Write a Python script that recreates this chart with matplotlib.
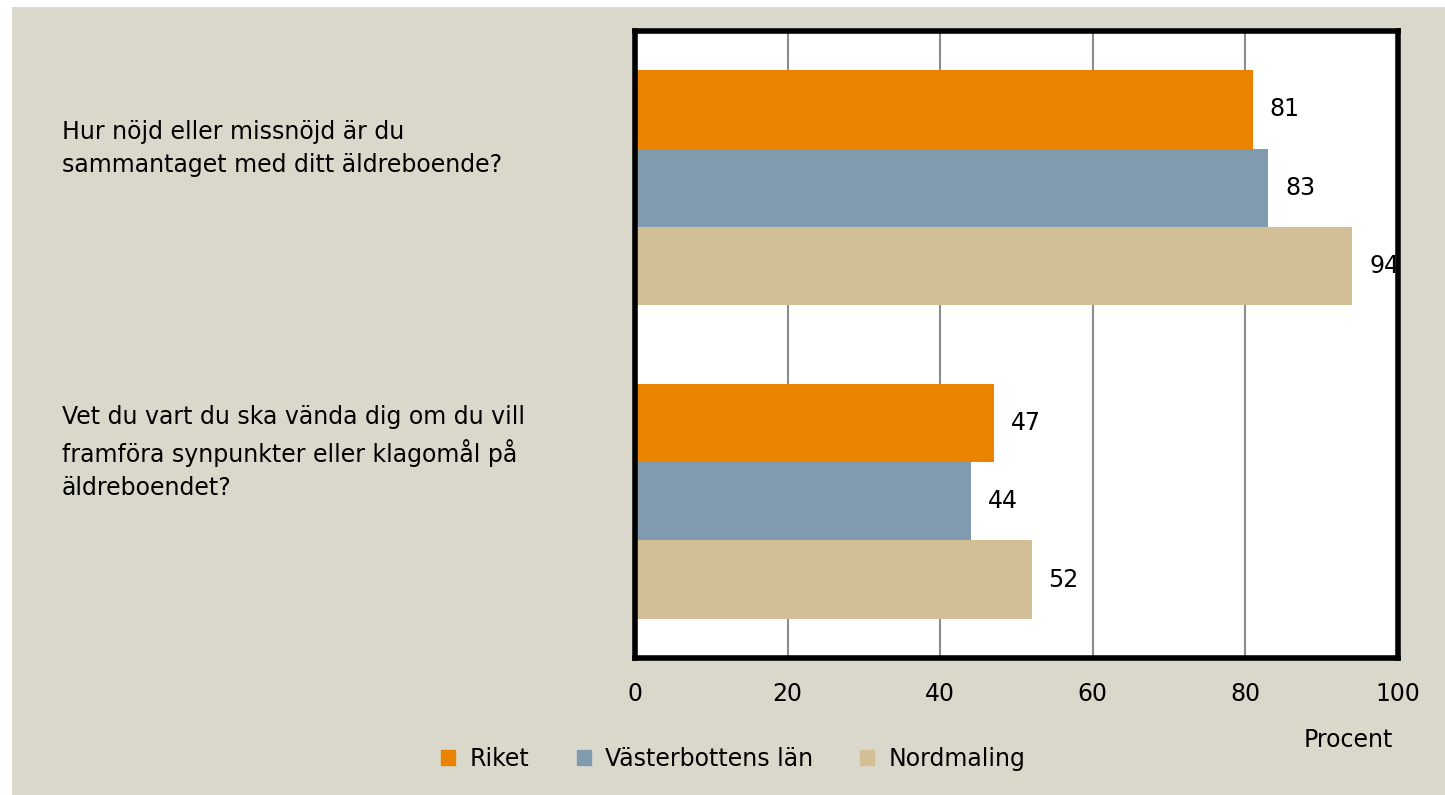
import matplotlib.pyplot as plt
import matplotlib.patches as mpatches
import numpy as np

questions = [
    "Hur nöjd eller missnöjd är du\nsammantaget med ditt äldreboende?",
    "Vet du vart du ska vända dig om du vill\nframföra synpunkter eller klagomål på\näldreboendet?",
]
series_names = ["Riket", "Västerbottens län", "Nordmaling"]
riket = [81, 47]
vasterbotten = [83, 44]
nordmaling = [94, 52]
xticks = [0, 20, 40, 60, 80, 100]

colors = ["#E98300", "#7F9BAD", "#D3BF96"]
BG = "#DAD8CB"
FONT = "DejaVu Sans"
FS = 17

fig = plt.figure(figsize=(14.45, 7.95), dpi=100)
fig.patch.set_facecolor("white")
fig.patches.append(mpatches.Rectangle((12 / 1445, 0), 1, (795 - 7) / 795,
                                      transform=fig.transFigure, facecolor=BG,
                                      edgecolor="none", zorder=-10))

ax = fig.add_axes([635 / 1445, (795 - 658) / 795, 763 / 1445, 627 / 795])
ax.set_facecolor("white")

y = np.arange(len(questions))
h = 0.25
for i, (vals, name) in enumerate(zip([riket, vasterbotten, nordmaling], series_names)):
    pos = y - h + i * h
    ax.barh(pos, vals, height=h, color=colors[i], label=name, zorder=3)
    for p, v in zip(pos, vals):
        ax.text(v + 2.2, p, str(v), va="center", ha="left", fontsize=FS,
                family=FONT, zorder=4)

ax.set_xlim(0, 100)
ax.set_ylim(-0.5, 1.5)
ax.invert_yaxis()
ax.set_xticks(xticks)
ax.set_xticklabels([str(t) for t in xticks], fontsize=FS, family=FONT)
ax.tick_params(axis="x", length=0, pad=17)
ax.set_yticks([])
ax.xaxis.grid(True, color="#8C8C8C", linewidth=1.5, zorder=0)
ax.set_axisbelow(True)
for s in ax.spines.values():
    s.set_linewidth(4)
    s.set_color("black")
    s.set_zorder(5)

# category labels sit a little above the group centres, as in the original
label_shift = [-0.125, -0.155]
for q, yy, dy in zip(questions, y, label_shift):
    ax.text(-0.751, yy + dy, q, transform=ax.get_yaxis_transform(), fontsize=FS,
            family=FONT, ha="left", va="center", linespacing=1.45)

fig.text(1393 / 1445, (795 - 740) / 795, "Procent", fontsize=FS, family=FONT,
         ha="right", va="center")

handles = [mpatches.Patch(color=c, label=n) for c, n in zip(colors, series_names)]
fig.legend(handles=handles, loc="center left", bbox_to_anchor=(420 / 1445, (795 - 759) / 795),
           ncol=3, frameon=False, prop={"family": FONT, "size": FS},
           handlelength=0.6, handleheight=0.6, handletextpad=0.6, columnspacing=2.0)

fig.savefig("out.png", dpi=100, facecolor=fig.get_facecolor())
